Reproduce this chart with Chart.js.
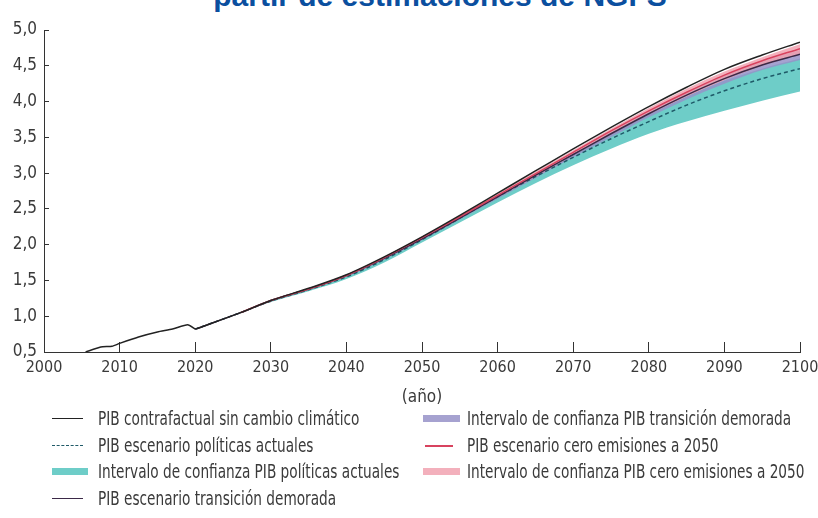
<!DOCTYPE html>
<html>
<head>
<meta charset="utf-8">
<script src="https://cdn.jsdelivr.net/npm/chart.js@4/dist/chart.umd.min.js"></script>
<style>
  body { margin: 0; background: #fff; }
  #wrap { position: relative; width: 818px; height: 518px; overflow: hidden;
          font-family: 'DejaVu Sans Condensed', 'Liberation Sans Narrow', sans-serif; color: #3a3a3a; }
  #head { position: absolute; left: 0; width: 818px; top: -19px; text-align: center; padding-left: 62px; box-sizing: border-box;
          font: bold 30px/30px 'Liberation Sans', sans-serif; color: #0b4f9f; white-space: nowrap; }
  canvas { position: absolute; left: 0; top: 0; }
  .leg { position: absolute; font-size: 19px; line-height: 20px; white-space: nowrap; }
  .leg span { position: absolute; top: 0; display: inline-block; transform: scaleX(0.8); transform-origin: 0 50%; }
  .leg i { position: absolute; top: 10px; }
  .line { height: 0; border-top: 1.5px solid #222; }
  .box { height: 7px; margin-top: -3px; }
</style>
</head>
<body>
<div id="wrap">
  <div id="head">partir de estimaciones de NGFS</div>
  <canvas id="gdpChart" width="818" height="518"></canvas>
  <div id="legend"></div>
</div>
<script>
// historical GDP (one line for every scenario)
const histYears = [2005.5, 2007.5, 2009, 2010, 2012.5, 2015, 2017, 2019, 2020];
const histGdp   = [0.50, 0.57, 0.58, 0.62, 0.71, 0.78, 0.82, 0.88, 0.82];

// projections
const years = [2020, 2026, 2030, 2035, 2040, 2045, 2050, 2055, 2060, 2065, 2070, 2075, 2080, 2085, 2090, 2095, 2100];
const contrafactual = [0.82, 1.05, 1.22, 1.39, 1.58, 1.83, 2.11, 2.41, 2.72, 3.03, 3.34, 3.64, 3.93, 4.20, 4.45, 4.65, 4.83];
const netZero      = [0.82, 1.05, 1.22, 1.38, 1.57, 1.82, 2.10, 2.39, 2.69, 2.99, 3.29, 3.59, 3.87, 4.13, 4.37, 4.57, 4.74];
const netZeroLow   = [0.82, 1.05, 1.21, 1.37, 1.56, 1.80, 2.08, 2.37, 2.66, 2.95, 3.25, 3.54, 3.82, 4.07, 4.30, 4.50, 4.66];
const netZeroHigh  = [0.82, 1.05, 1.22, 1.39, 1.58, 1.83, 2.11, 2.40, 2.71, 3.02, 3.32, 3.62, 3.91, 4.18, 4.42, 4.62, 4.80];
const delayed      = [0.82, 1.05, 1.22, 1.38, 1.57, 1.81, 2.08, 2.37, 2.67, 2.97, 3.26, 3.55, 3.83, 4.09, 4.32, 4.51, 4.66];
const delayedLow   = [0.82, 1.05, 1.21, 1.37, 1.55, 1.79, 2.06, 2.35, 2.64, 2.93, 3.22, 3.50, 3.78, 4.03, 4.25, 4.44, 4.58];
const delayedHigh  = [0.82, 1.05, 1.22, 1.38, 1.57, 1.82, 2.10, 2.39, 2.69, 2.99, 3.29, 3.58, 3.87, 4.13, 4.37, 4.57, 4.72];
const current      = [0.82, 1.05, 1.21, 1.37, 1.55, 1.79, 2.07, 2.37, 2.67, 2.95, 3.22, 3.48, 3.72, 3.95, 4.15, 4.32, 4.46];
const currentLow   = [0.82, 1.05, 1.20, 1.35, 1.52, 1.75, 2.03, 2.31, 2.59, 2.86, 3.11, 3.34, 3.55, 3.72, 3.87, 4.01, 4.14];
const currentHigh  = [0.82, 1.05, 1.22, 1.38, 1.57, 1.81, 2.08, 2.38, 2.68, 2.98, 3.27, 3.55, 3.82, 4.07, 4.29, 4.46, 4.60];

const yTicks = [0.5, 1.0, 1.5, 2.0, 2.5, 3.0, 3.5, 4.0, 4.5, 5.0];
const xTicks = [2000, 2010, 2020, 2030, 2040, 2050, 2060, 2070, 2080, 2090, 2100];

const FONT = "'DejaVu Sans Condensed', 'Liberation Sans Narrow', sans-serif";
const C = {
  black: '#222222', dashed: '#1f5a68', delayed: '#3b2947', red: '#d8435f',
  teal: 'rgb(110, 205, 200)', purple: 'rgba(150, 146, 200, 0.85)', pink: 'rgba(241, 162, 176, 0.85)'
};

const pts = (xs, ys) => xs.map((x, i) => ({ x: x, y: ys[i] }));
const line = (label, data, color, order, extra) => Object.assign({
  label: label, data: data, borderColor: color, borderWidth: 1.5, pointRadius: 0,
  fill: false, cubicInterpolationMode: 'monotone', order: order
}, extra || {});

new Chart(document.getElementById('gdpChart'), {
  type: 'line',
  data: {
    datasets: [
      line('hist', pts(histYears, histGdp), C.black, 0, { cubicInterpolationMode: 'default', tension: 0.2 }),
      line('PIB contrafactual sin cambio climático', pts(years, contrafactual), C.black, 1),
      line('PIB escenario cero emisiones a 2050', pts(years.slice(1), netZero.slice(1)), C.red, 2),
      line('PIB escenario transición demorada', pts(years, delayed), C.delayed, 3),
      line('PIB escenario políticas actuales', pts(years, current), C.dashed, 4, { borderDash: [4, 3] }),
      line('nz low', pts(years, netZeroLow), 'transparent', 5, { borderWidth: 0 }),
      line('Intervalo de confianza PIB cero emisiones a 2050', pts(years, netZeroHigh), 'transparent', 6, { borderWidth: 0, fill: '-1', backgroundColor: C.pink }),
      line('dt low', pts(years, delayedLow), 'transparent', 7, { borderWidth: 0 }),
      line('Intervalo de confianza PIB transición demorada', pts(years, delayedHigh), 'transparent', 8, { borderWidth: 0, fill: '-1', backgroundColor: C.purple }),
      line('cp low', pts(years, currentLow), 'transparent', 9, { borderWidth: 0 }),
      line('Intervalo de confianza PIB políticas actuales', pts(years, currentHigh), 'transparent', 10, { borderWidth: 0, fill: '-1', backgroundColor: C.teal })
    ]
  },
  options: {
    responsive: false,
    animation: false,
    layout: { padding: { left: 0, right: 0, top: 30, bottom: 106 } },
    plugins: { legend: { display: false }, tooltip: { enabled: false } },
    scales: {
      x: {
        type: 'linear', min: 2000, max: 2100,
        afterBuildTicks: s => { s.ticks = xTicks.map(v => ({ value: v })); },
        // keep 2100 at x=800 regardless of the label padding
        afterFit: s => { s.height = 60; s.paddingLeft = 0; s.paddingRight = 18; },
        border: { color: '#333', width: 1 },
        grid: { drawOnChartArea: false, tickLength: -10, color: '#333' },
        ticks: { padding: 16, color: '#3a3a3a', font: { family: FONT, size: 16 }, maxRotation: 0, callback: v => String(v) },
        title: { display: true, text: '(año)', color: '#3a3a3a', font: { family: FONT, size: 17 }, padding: { top: 0, bottom: 4 } }
      },
      y: {
        min: 0.5, max: 5,
        afterBuildTicks: s => { s.ticks = yTicks.map(v => ({ value: v })); },
        afterFit: s => { s.width = 44; },
        border: { color: '#333', width: 1 },
        grid: { drawOnChartArea: false, tickLength: -5, color: '#333' },
        ticks: { padding: 12, color: '#3a3a3a', font: { family: FONT, size: 17 }, callback: v => v.toFixed(1).replace('.', ',') }
      }
    }
  }
});

// legend (two columns, as in the source figure)
const legendItems = [
  { text: 'PIB contrafactual sin cambio climático', kind: 'line', color: C.black, x: 52, y: 408 },
  { text: 'PIB escenario políticas actuales', kind: 'dash', color: C.dashed, x: 52, y: 435 },
  { text: 'Intervalo de confianza PIB políticas actuales', kind: 'box', color: C.teal, x: 52, y: 461 },
  { text: 'PIB escenario transición demorada', kind: 'line', color: C.delayed, x: 52, y: 488 },
  { text: 'Intervalo de confianza PIB transición demorada', kind: 'box', color: C.purple, x: 423, y: 408 },
  { text: 'PIB escenario cero emisiones a 2050', kind: 'line', color: C.red, x: 423, y: 435 },
  { text: 'Intervalo de confianza PIB cero emisiones a 2050', kind: 'box', color: C.pink, x: 423, y: 461 }
];
const legend = document.getElementById('legend');
legendItems.forEach(item => {
  const d = document.createElement('div');
  d.className = 'leg';
  d.style.left = item.x + 'px';
  d.style.top = item.y + 'px';
  const left = item.x < 200;
  const sw = document.createElement('i');
  if (item.kind === 'box') {
    sw.className = 'box';
    sw.style.background = item.color;
    sw.style.left = '0px';
    sw.style.width = left ? '36px' : '37px';
  } else {
    sw.className = 'line';
    sw.style.borderTopColor = item.color;
    if (item.kind === 'dash') { sw.style.borderTopStyle = 'dashed'; sw.style.borderTopWidth = '1px'; }
    if (item.color === C.red) sw.style.borderTopWidth = '2px';
    sw.style.left = left ? '0px' : '2px';
    sw.style.width = left ? '31px' : '28px';
  }
  d.appendChild(sw);
  const t = document.createElement('span');
  t.textContent = item.text;
  t.style.left = left ? '46px' : '44px';
  d.appendChild(t);
  legend.appendChild(d);
});
</script>
</body>
</html>
